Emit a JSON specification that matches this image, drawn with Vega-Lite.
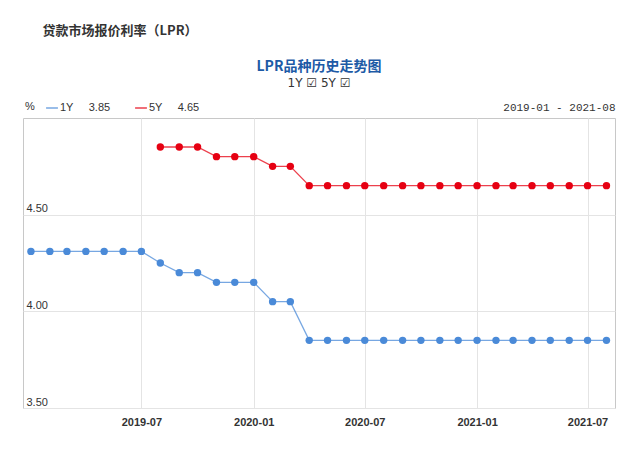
{
  "$schema": "https://vega.github.io/schema/vega-lite/v6.json",
  "autosize": {"type": "none"},
  "width": 592,
  "height": 290,
  "padding": {"left": 23, "top": 118, "right": 25, "bottom": 66},
  "background": "#ffffff",
  "title": {
    "text": "LPR品种历史走势图",
    "subtitle": "1Y ☑ 5Y ☑",
    "anchor": "middle",
    "frame": "group",
    "font": "Noto Sans CJK SC",
    "fontSize": 14,
    "fontWeight": "bold",
    "color": "#1d5aa6",
    "subtitleFont": "DejaVu Sans",
    "subtitleFontSize": 12,
    "subtitleColor": "#333333",
    "subtitlePadding": 4,
    "offset": -65
  },
  "config": {
    "view": {"stroke": "#c8c8c8", "strokeWidth": 1},
    "axis": {"gridColor": "#e4e4e4", "gridWidth": 1}
  },
  "data": {
    "values": [
      {"date": "2019-01-01", "series": "1Y", "rate": 4.31},
      {"date": "2019-02-01", "series": "1Y", "rate": 4.31},
      {"date": "2019-03-01", "series": "1Y", "rate": 4.31},
      {"date": "2019-04-01", "series": "1Y", "rate": 4.31},
      {"date": "2019-05-01", "series": "1Y", "rate": 4.31},
      {"date": "2019-06-01", "series": "1Y", "rate": 4.31},
      {"date": "2019-07-01", "series": "1Y", "rate": 4.31},
      {"date": "2019-08-01", "series": "1Y", "rate": 4.25},
      {"date": "2019-09-01", "series": "1Y", "rate": 4.20},
      {"date": "2019-10-01", "series": "1Y", "rate": 4.20},
      {"date": "2019-11-01", "series": "1Y", "rate": 4.15},
      {"date": "2019-12-01", "series": "1Y", "rate": 4.15},
      {"date": "2020-01-01", "series": "1Y", "rate": 4.15},
      {"date": "2020-02-01", "series": "1Y", "rate": 4.05},
      {"date": "2020-03-01", "series": "1Y", "rate": 4.05},
      {"date": "2020-04-01", "series": "1Y", "rate": 3.85},
      {"date": "2020-05-01", "series": "1Y", "rate": 3.85},
      {"date": "2020-06-01", "series": "1Y", "rate": 3.85},
      {"date": "2020-07-01", "series": "1Y", "rate": 3.85},
      {"date": "2020-08-01", "series": "1Y", "rate": 3.85},
      {"date": "2020-09-01", "series": "1Y", "rate": 3.85},
      {"date": "2020-10-01", "series": "1Y", "rate": 3.85},
      {"date": "2020-11-01", "series": "1Y", "rate": 3.85},
      {"date": "2020-12-01", "series": "1Y", "rate": 3.85},
      {"date": "2021-01-01", "series": "1Y", "rate": 3.85},
      {"date": "2021-02-01", "series": "1Y", "rate": 3.85},
      {"date": "2021-03-01", "series": "1Y", "rate": 3.85},
      {"date": "2021-04-01", "series": "1Y", "rate": 3.85},
      {"date": "2021-05-01", "series": "1Y", "rate": 3.85},
      {"date": "2021-06-01", "series": "1Y", "rate": 3.85},
      {"date": "2021-07-01", "series": "1Y", "rate": 3.85},
      {"date": "2021-08-01", "series": "1Y", "rate": 3.85},
      {"date": "2019-08-01", "series": "5Y", "rate": 4.85},
      {"date": "2019-09-01", "series": "5Y", "rate": 4.85},
      {"date": "2019-10-01", "series": "5Y", "rate": 4.85},
      {"date": "2019-11-01", "series": "5Y", "rate": 4.80},
      {"date": "2019-12-01", "series": "5Y", "rate": 4.80},
      {"date": "2020-01-01", "series": "5Y", "rate": 4.80},
      {"date": "2020-02-01", "series": "5Y", "rate": 4.75},
      {"date": "2020-03-01", "series": "5Y", "rate": 4.75},
      {"date": "2020-04-01", "series": "5Y", "rate": 4.65},
      {"date": "2020-05-01", "series": "5Y", "rate": 4.65},
      {"date": "2020-06-01", "series": "5Y", "rate": 4.65},
      {"date": "2020-07-01", "series": "5Y", "rate": 4.65},
      {"date": "2020-08-01", "series": "5Y", "rate": 4.65},
      {"date": "2020-09-01", "series": "5Y", "rate": 4.65},
      {"date": "2020-10-01", "series": "5Y", "rate": 4.65},
      {"date": "2020-11-01", "series": "5Y", "rate": 4.65},
      {"date": "2020-12-01", "series": "5Y", "rate": 4.65},
      {"date": "2021-01-01", "series": "5Y", "rate": 4.65},
      {"date": "2021-02-01", "series": "5Y", "rate": 4.65},
      {"date": "2021-03-01", "series": "5Y", "rate": 4.65},
      {"date": "2021-04-01", "series": "5Y", "rate": 4.65},
      {"date": "2021-05-01", "series": "5Y", "rate": 4.65},
      {"date": "2021-06-01", "series": "5Y", "rate": 4.65},
      {"date": "2021-07-01", "series": "5Y", "rate": 4.65},
      {"date": "2021-08-01", "series": "5Y", "rate": 4.65}
    ]
  },
  "encoding": {
    "x": {
      "field": "date",
      "type": "temporal",
      "scale": {
        "type": "utc",
        "domain": [
          {"year": 2018, "month": 12, "date": 19, "utc": true},
          {"year": 2021, "month": 8, "date": 15, "utc": true}
        ]
      },
      "axis": {
        "title": null,
        "format": "%Y-%m",
        "values": [
          {"year": 2019, "month": 7, "date": 1, "utc": true},
          {"year": 2020, "month": 1, "date": 1, "utc": true},
          {"year": 2020, "month": 7, "date": 1, "utc": true},
          {"year": 2021, "month": 1, "date": 1, "utc": true},
          {"year": 2021, "month": 7, "date": 1, "utc": true}
        ],
        "grid": true,
        "domain": false,
        "ticks": false,
        "labelPadding": 8,
        "labelFont": "Liberation Sans",
        "labelFontSize": 11,
        "labelColor": "#333333",
        "labelFontWeight": "bold"
      }
    },
    "color": {
      "field": "series",
      "type": "nominal",
      "scale": {"domain": ["1Y", "5Y"], "range": ["#4a8ad8", "#e60012"]},
      "legend": {
        "orient": "none",
        "legendX": 2,
        "legendY": -17,
        "direction": "horizontal",
        "title": "%",
        "titleOrient": "left",
        "titleFont": "Liberation Sans",
        "titleFontSize": 11,
        "titleFontWeight": "normal",
        "titleColor": "#333333",
        "titlePadding": 10,
        "symbolType": "stroke",
        "symbolSize": 140,
        "symbolStrokeWidth": 1.5,
        "labelFont": "Liberation Sans",
        "labelFontSize": 11,
        "labelColor": "#333333",
        "labelOffset": 1,
        "columnPadding": 21,
        "labelExpr": "datum.label == '1Y' ? '1Y\u00a0\u00a0\u00a0\u00a0\u00a03.85' : '5Y\u00a0\u00a0\u00a0\u00a0\u00a04.65'"
      }
    }
  },
  "layer": [
    {
      "mark": {"type": "line", "strokeWidth": 1.3, "opacity": 0.75},
      "encoding": {
        "y": {
          "field": "rate",
          "type": "quantitative",
          "scale": {"domain": [3.5, 5.0], "nice": false, "zero": false},
          "axis": {
            "values": [3.5, 4.0, 4.5],
            "format": ".2f",
            "grid": true,
            "domain": false,
            "ticks": false,
            "tickSize": 0,
            "labelAlign": "left",
            "labelBaseline": "bottom",
            "labelPadding": -3,
            "labelOffset": -1,
            "labelFont": "Liberation Sans",
            "labelFontSize": 11,
            "labelColor": "#333333",
            "title": "贷款市场报价利率（LPR）",
            "titleAngle": 0,
            "titleAlign": "left",
            "titleBaseline": "middle",
            "titleX": 19,
            "titleY": -88,
            "titleFont": "Noto Sans CJK SC",
            "titleFontSize": 13,
            "titleFontWeight": "bold",
            "titleColor": "#333333"
          }
        }
      }
    },
    {
      "mark": {"type": "point", "filled": true, "size": 55, "opacity": 1},
      "encoding": {
        "y": {
          "field": "rate",
          "type": "quantitative",
          "axis": {
            "orient": "right",
            "labels": false,
            "ticks": false,
            "domain": false,
            "grid": false,
            "title": "2019-01 - 2021-08",
            "titleAngle": 0,
            "titleAlign": "right",
            "titleBaseline": "middle",
            "titleX": 0,
            "titleY": -11,
            "titleFont": "Liberation Mono",
            "titleFontSize": 11,
            "titleFontWeight": "normal",
            "titleColor": "#333333"
          }
        }
      }
    }
  ],
  "resolve": {"axis": {"y": "independent"}}
}
